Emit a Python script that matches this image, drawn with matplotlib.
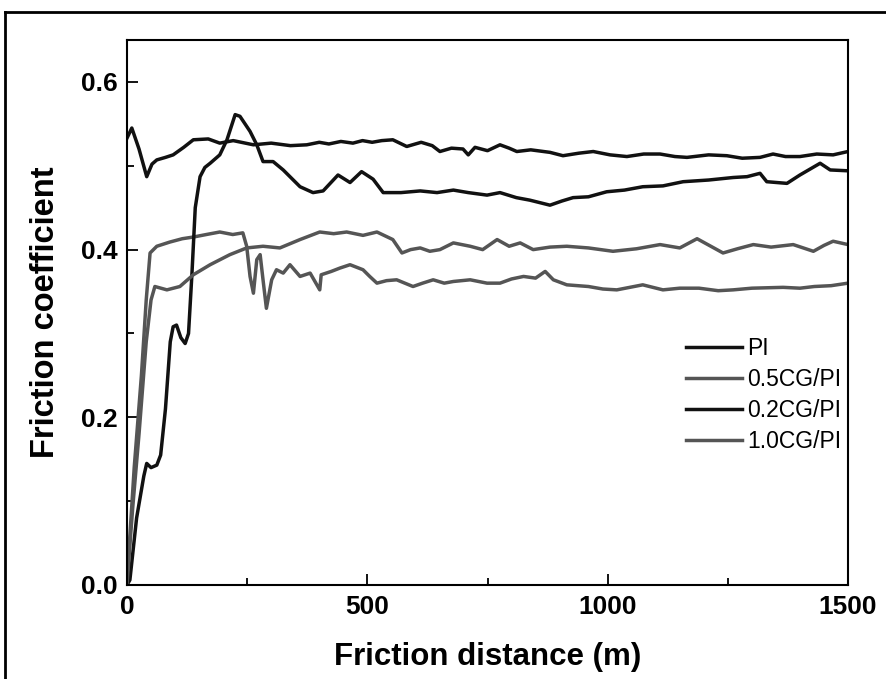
import matplotlib.pyplot as plt
from matplotlib.lines import Line2D
from matplotlib.ticker import MultipleLocator

plt.rcParams['font.family'] = ['Liberation Sans', 'DejaVu Sans']

# PI
pi_x = [0, 10, 25, 41, 52, 62, 80, 96, 118, 138, 169, 193, 221, 263, 300, 340, 374,
        400, 420, 445, 470, 490, 510, 530, 553, 582, 612, 635, 651, 675, 699, 710,
        724, 750, 776, 795, 811, 840, 880, 907, 940, 970, 1005, 1040, 1075, 1109,
        1140, 1165, 1210, 1248, 1280, 1317, 1344, 1370, 1400, 1435, 1469, 1500]
pi_y = [0.533, 0.545, 0.520, 0.487, 0.502, 0.507, 0.510, 0.513, 0.522, 0.531, 0.532,
        0.527, 0.530, 0.525, 0.527, 0.524, 0.525, 0.528, 0.526, 0.529, 0.527, 0.530,
        0.528, 0.530, 0.531, 0.523, 0.528, 0.524, 0.517, 0.521, 0.520, 0.513, 0.522,
        0.518, 0.525, 0.521, 0.517, 0.519, 0.516, 0.512, 0.515, 0.517, 0.513, 0.511,
        0.514, 0.514, 0.511, 0.510, 0.513, 0.512, 0.509, 0.510, 0.514, 0.511, 0.511,
        0.514, 0.513, 0.517]

# 0.5CG/PI
c05_x = [0, 5, 15, 30, 40, 48, 62, 89, 115, 138, 165, 193, 220, 241, 249, 256, 263,
         270, 277, 283, 290, 301, 311, 325, 339, 360, 381, 401, 404, 425, 443, 464,
         491, 505, 520, 540, 561, 595, 615, 637, 660, 679, 714, 749, 776, 800, 825,
         850, 870, 887, 915, 960, 990, 1019, 1073, 1115, 1150, 1190, 1230, 1261,
         1300, 1365, 1400, 1430, 1465, 1500]
c05_y = [0.0, 0.05, 0.14, 0.25, 0.34, 0.396, 0.404, 0.409, 0.413, 0.415, 0.418, 0.421,
         0.418, 0.420, 0.404, 0.368, 0.348, 0.388, 0.394, 0.364, 0.330, 0.364, 0.376,
         0.372, 0.382, 0.368, 0.372, 0.352, 0.370, 0.374, 0.378, 0.382, 0.376, 0.368,
         0.360, 0.363, 0.364, 0.356, 0.360, 0.364, 0.360, 0.362, 0.364, 0.360, 0.360,
         0.365, 0.368, 0.366, 0.374, 0.364, 0.358, 0.356, 0.353, 0.352, 0.358, 0.352,
         0.354, 0.354, 0.351, 0.352, 0.354, 0.355, 0.354, 0.356, 0.357, 0.360]

# 0.2CG/PI
c02_x = [0, 6, 20, 35, 41, 50, 62, 70, 80, 90, 96, 103, 112, 121, 128, 135, 142, 152,
         162, 173, 193, 208, 225, 235, 256, 270, 283, 304, 325, 360, 387, 408, 439,
         464, 488, 512, 533, 570, 610, 645, 679, 710, 749, 776, 810, 838, 880, 905,
         928, 960, 998, 1035, 1073, 1115, 1157, 1210, 1261, 1290, 1317, 1331, 1373,
         1400, 1442, 1463, 1500]
c02_y = [0.0, 0.006, 0.08, 0.13, 0.145, 0.140, 0.143, 0.155, 0.21, 0.29, 0.308, 0.310,
         0.295, 0.288, 0.300, 0.370, 0.450, 0.487, 0.498, 0.503, 0.513, 0.531, 0.561,
         0.559, 0.541, 0.525, 0.505, 0.505, 0.495, 0.475, 0.468, 0.470, 0.489, 0.480,
         0.493, 0.484, 0.468, 0.468, 0.470, 0.468, 0.471, 0.468, 0.465, 0.468, 0.462,
         0.459, 0.453, 0.458, 0.462, 0.463, 0.469, 0.471, 0.475, 0.476, 0.481, 0.483,
         0.486, 0.487, 0.491, 0.481, 0.479, 0.489, 0.503, 0.495, 0.494]

# 1.0CG/PI
c10_x = [0, 5, 12, 25, 40, 50, 58, 83, 110, 138, 173, 214, 249, 283, 318, 360, 401,
         430, 457, 491, 520, 553, 572, 590, 610, 630, 651, 679, 714, 740, 770, 795,
         818, 845, 880, 915, 960, 1011, 1060, 1109, 1150, 1186, 1240, 1270, 1303,
         1340, 1386, 1428, 1450, 1469, 1500]
c10_y = [0.0, 0.04, 0.093, 0.18, 0.29, 0.34, 0.356, 0.352, 0.356, 0.370, 0.382, 0.394,
         0.402, 0.404, 0.402, 0.412, 0.421, 0.419, 0.421, 0.417, 0.421, 0.412, 0.396,
         0.400, 0.402, 0.398, 0.400, 0.408, 0.404, 0.400, 0.412, 0.404, 0.408, 0.400,
         0.403, 0.404, 0.402, 0.398, 0.401, 0.406, 0.402, 0.413, 0.396, 0.401, 0.406,
         0.403, 0.406, 0.398, 0.405, 0.410, 0.406]

labels = ['PI', '0.5CG/PI', '0.2CG/PI', '1.0CG/PI']
black = '#111111'
grey = '#555555'

fig = plt.figure(figsize=(8.86, 6.79), dpi=100)
ax = fig.add_axes([127 / 886, 1 - 585 / 679, 721 / 886, 545 / 679])

lw = 2.5
ax.plot(pi_x, pi_y, color=black, lw=lw, label=labels[0])
ax.plot(c05_x, c05_y, color=grey, lw=lw, label=labels[1])
ax.plot(c02_x, c02_y, color=black, lw=lw, label=labels[2])
ax.plot(c10_x, c10_y, color=grey, lw=lw, label=labels[3])

ax.set_xlim(0, 1500)
ax.set_ylim(0, 0.65)
ax.xaxis.set_major_locator(MultipleLocator(500))
ax.xaxis.set_minor_locator(MultipleLocator(250))
ax.yaxis.set_major_locator(MultipleLocator(0.2))
ax.yaxis.set_minor_locator(MultipleLocator(0.1))
ax.yaxis.set_major_formatter(plt.FormatStrFormatter('%.1f'))
ax.tick_params(which='both', direction='in', width=1.3, labelsize=19)
ax.tick_params(which='major', length=8, pad=7)
ax.tick_params(which='minor', length=5)
for lab in ax.get_xticklabels() + ax.get_yticklabels():
    lab.set_fontweight('bold')
for sp in ax.spines.values():
    sp.set_linewidth(1.5)

ax.set_xlabel('Friction distance (m)', fontsize=22.5, fontweight='bold', labelpad=17)
ax.set_ylabel('Friction coefficient', fontsize=23.5, fontweight='bold', labelpad=14)

ax.legend(loc='upper left', bbox_to_anchor=(0.763, 0.472), borderaxespad=0,
          frameon=False, fontsize=16.5, handlelength=2.45, handletextpad=0.2,
          labelspacing=0.35)

# outer frame, cut off at right and bottom
fx = 5 / 886
fy = 1 - 12 / 679
fig.add_artist(Line2D([fx, fx], [0, fy], color='black', lw=2, transform=fig.transFigure))
fig.add_artist(Line2D([fx, 1], [fy, fy], color='black', lw=2, transform=fig.transFigure))

fig.savefig('out.png', dpi=100)
